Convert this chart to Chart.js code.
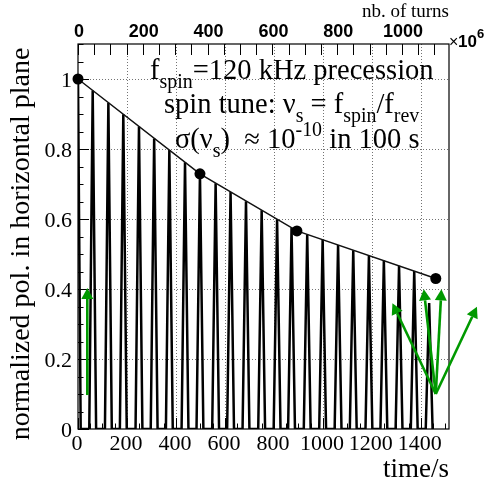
<!DOCTYPE html>
<html><head><meta charset="utf-8">
<script src="https://cdn.jsdelivr.net/npm/chart.js@4/dist/chart.umd.min.js"></script>
<style>html,body{margin:0;padding:0;background:#fff}#wrap{width:491px;height:482px}</style>
</head><body><div id="wrap"><canvas id="c" width="491" height="482"></canvas></div>
<script>
// ---- data ----
const peakTime  = [0, 60, 124, 185, 249, 311, 373, 437, 498, 562, 623, 686, 750, 813, 872, 936, 999, 1062, 1124, 1188, 1249, 1311, 1373, 1434];
const peakValue = [1.0, 0.967, 0.932, 0.899, 0.864, 0.830, 0.797, 0.762, 0.729, 0.702, 0.677, 0.651, 0.625, 0.599, 0.575, 0.556, 0.541, 0.526, 0.511, 0.496, 0.481, 0.466, 0.451, 0.36];
const riseStart = [null, 46, 110, 171, 235, 297, 359, 423, 484, 548, 609, 672, 736, 799, 858, 922, 985, 1048, 1110, 1174, 1235, 1297, 1359, 1420];
const fallEnd   = [11, 74, 138, 199, 263, 325, 387, 451, 512, 576, 637, 700, 764, 827, 886, 950, 1013, 1076, 1138, 1202, 1263, 1325, 1387, 1448];
const envTime   = [0, 498, 894, 1461];
const envValue  = [1.0, 0.729, 0.566, 0.43];
const xTicks = [0, 200, 400, 600, 800, 1000, 1200, 1400];
const xTickLabels = ['0', '200', '400', '600', '800', '1000', '1200', '1400'];
const yTicks = [0, 0.2, 0.4, 0.6, 0.8, 1.0];
const yTickLabels = ['0', '0.2', '0.4', '0.6', '0.8', '1'];
const turnTicks = [0, 200, 400, 600, 800, 1000];
const turnTickLabels = ['0', '200', '400', '600', '800', '1000'];
// annotation arrows (time/s, polarization)
const arrowFromT = [38, 1461, 1461, 1461, 1461];
const arrowFromV = [0.097, 0.10, 0.10, 0.10, 0.10];
const arrowToT   = [38, 1284, 1412, 1484, 1629];
const arrowToV   = [0.403, 0.359, 0.399, 0.399, 0.349];

// ---- build trace ----
const trace = [];
for (let i = 0; i < peakTime.length; i++) {
  if (riseStart[i] !== null) trace.push({x: riseStart[i], y: 0});
  trace.push({x: peakTime[i], y: peakValue[i]});
  trace.push({x: fallEnd[i], y: 0});
}
const env = envTime.map((t, i) => ({x: t, y: envValue[i]}));

const SERIF = '"Liberation Serif", "Times New Roman", serif';
const SANS = '"Liberation Sans", Arial, sans-serif';
const GREEN = 'rgb(0,153,0)';

function drawRich(ctx, x, y, parts, F) {
  let cx = x;
  for (const [t, k] of parts) {
    let size = F, dy = 0;
    if (k === 1) { size = F * 0.7; dy = F * 0.3; }
    if (k === 2) { size = F * 0.7; dy = -F * 0.42; }
    ctx.font = size + 'px ' + SERIF;
    ctx.fillText(t, cx, y + dy);
    cx += ctx.measureText(t).width;
  }
}

const deco = {
  id: 'deco',
  beforeDatasetsDraw(chart) {
    const ctx = chart.ctx, a = chart.chartArea, xs = chart.scales.x, ys = chart.scales.y;
    ctx.save();
    ctx.strokeStyle = 'rgba(0,0,0,0.55)';
    ctx.lineWidth = 1;
    ctx.setLineDash([1, 2]);
    xTicks.forEach(v => { if (v === 0) return; const px = Math.round(xs.getPixelForValue(v)) + 0.5;
      ctx.beginPath(); ctx.moveTo(px, a.top); ctx.lineTo(px, a.bottom); ctx.stroke(); });
    yTicks.forEach(v => { if (v === 0) return; const py = Math.round(ys.getPixelForValue(v)) + 0.5;
      ctx.beginPath(); ctx.moveTo(a.left, py); ctx.lineTo(a.right, py); ctx.stroke(); });
    ctx.restore();
  },
  afterDatasetsDraw(chart) {
    const ctx = chart.ctx, a = chart.chartArea, xs = chart.scales.x, ys = chart.scales.y, x2 = chart.scales.x2;
    ctx.save();
    // frame
    ctx.strokeStyle = '#000'; ctx.lineWidth = 1.2;
    ctx.strokeRect(a.left, a.top, a.right - a.left, a.bottom - a.top);
    // inward tick marks
    ctx.lineWidth = 1;
    ctx.beginPath();
    for (let v = 0; v <= xs.max; v += 50) {
      const px = Math.round(xs.getPixelForValue(v)) + 0.5;
      const L = (v % 200 === 0) ? 11 : 5.5;
      ctx.moveTo(px, a.bottom); ctx.lineTo(px, a.bottom - L);
    }
    for (let v = 0; v <= x2.max; v += 50) {
      const px = Math.round(x2.getPixelForValue(v)) + 0.5;
      ctx.moveTo(px, a.top); ctx.lineTo(px, a.top + 11);
    }
    for (let i = 0; i <= 22; i++) {
      const v = i * 0.05;
      const py = Math.round(ys.getPixelForValue(v)) + 0.5;
      const L = (i % 4 === 0) ? 11 : 5.5;
      ctx.moveTo(a.left, py); ctx.lineTo(a.left + L, py);
    }
    ctx.stroke();

    // tick labels, positioned by the scales
    ctx.fillStyle = '#000';
    ctx.textBaseline = 'alphabetic';
    ctx.font = '22px ' + SERIF;
    ctx.textAlign = 'center';
    xTicks.forEach((v, i) => ctx.fillText(xTickLabels[i], xs.getPixelForValue(v) - 1, 450));
    ctx.textAlign = 'right';
    yTicks.forEach((v, i) => ctx.fillText(yTickLabels[i], a.left - 6, ys.getPixelForValue(v) + 7.5));
    ctx.font = 'bold 18px ' + SANS;
    ctx.textAlign = 'center';
    turnTicks.forEach((v, i) => ctx.fillText(turnTickLabels[i], x2.getPixelForValue(v) + 1, 37));

    // titles
    ctx.save();
    ctx.translate(29, 244); ctx.rotate(-Math.PI / 2);
    ctx.textAlign = 'center';
    ctx.font = '28px ' + SERIF;
    ctx.fillText('normalized pol. in horizontal plane', 0, 0);
    ctx.restore();
    ctx.textAlign = 'right';
    ctx.font = '27px ' + SERIF;
    ctx.fillText('time/s', a.right, 477);
    ctx.font = '19px ' + SERIF;
    ctx.fillText('nb. of turns', a.right, 17);
    ctx.textAlign = 'left';
    ctx.font = '16px ' + SANS;
    ctx.fillText('\u00d7', a.right + 0, 47);
    ctx.font = 'bold 17px ' + SANS;
    ctx.fillText('10', a.right + 9, 47);
    ctx.font = 'bold 13px ' + SANS;
    ctx.fillText('6', a.right + 28, 38);

    // annotation text
    const F = 28.5;
    drawRich(ctx, 150, 79, [['f', 0], ['spin', 1], ['=120 kHz precession', 0]], F);
    drawRich(ctx, 164, 113, [['spin tune: \u03bd', 0], ['s', 1], [' = f', 0], ['spin', 1], ['/f', 0], ['rev', 1]], F);
    drawRich(ctx, 175, 148, [['\u03c3(\u03bd', 0], ['s', 1], [')  \u2248 10', 0], ['-10', 2], [' in 100 s', 0]], F);

    // arrows
    ctx.strokeStyle = GREEN; ctx.fillStyle = GREEN; ctx.lineWidth = 2.6;
    for (let i = 0; i < arrowFromT.length; i++) {
      const x0 = xs.getPixelForValue(arrowFromT[i]), y0 = ys.getPixelForValue(arrowFromV[i]);
      const x1 = xs.getPixelForValue(arrowToT[i]), y1 = ys.getPixelForValue(arrowToV[i]);
      const ang = Math.atan2(y1 - y0, x1 - x0);
      const HL = 11, HW = 6;
      const bx = x1 - HL * Math.cos(ang), by = y1 - HL * Math.sin(ang);
      ctx.beginPath(); ctx.moveTo(x0, y0); ctx.lineTo(bx, by); ctx.stroke();
      ctx.beginPath();
      ctx.moveTo(x1, y1);
      ctx.lineTo(bx + HW * Math.sin(ang), by - HW * Math.cos(ang));
      ctx.lineTo(bx - HW * Math.sin(ang), by + HW * Math.cos(ang));
      ctx.closePath(); ctx.fill();
    }
    ctx.restore();
  }
};

new Chart(document.getElementById('c'), {
  type: 'line',
  data: {
    datasets: [
      { label: 'envelope', data: env, borderColor: '#111', borderWidth: 1.5, pointRadius: 5.5,
        pointBackgroundColor: '#000', pointBorderColor: '#000', pointBorderWidth: 0, tension: 0, clip: false, xAxisID: 'x', yAxisID: 'y' },
      { label: 'polarization', data: trace, borderColor: '#000', borderWidth: 2.5, pointRadius: 0, tension: 0, xAxisID: 'x', yAxisID: 'y' }
    ]
  },
  options: {
    responsive: false, animation: false, devicePixelRatio: 1,
    layout: { padding: { left: 0, right: 42, top: 0, bottom: 0 } },
    plugins: { legend: { display: false }, tooltip: { enabled: false }, title: { display: false } },
    scales: {
      x: { type: 'linear', position: 'bottom', min: 0, max: 1515,
        afterBuildTicks: s => { s.ticks = xTicks.map(v => ({ value: v })); },
        afterFit: s => { s.height = 53; },
        ticks: { display: false }, grid: { display: false, drawTicks: false }, border: { display: false } },
      x2: { type: 'linear', position: 'top', min: 0, max: 1145,
        afterBuildTicks: s => { s.ticks = turnTicks.map(v => ({ value: v })); },
        afterFit: s => { s.height = 44; },
        ticks: { display: false }, grid: { display: false, drawTicks: false }, border: { display: false } },
      y: { type: 'linear', position: 'left', min: 0, max: 1.1,
        afterBuildTicks: s => { s.ticks = yTicks.map(v => ({ value: v })); },
        afterFit: s => { s.width = 78; },
        ticks: { display: false }, grid: { display: false, drawTicks: false }, border: { display: false } }
    }
  },
  plugins: [deco]
});
</script></body></html>
